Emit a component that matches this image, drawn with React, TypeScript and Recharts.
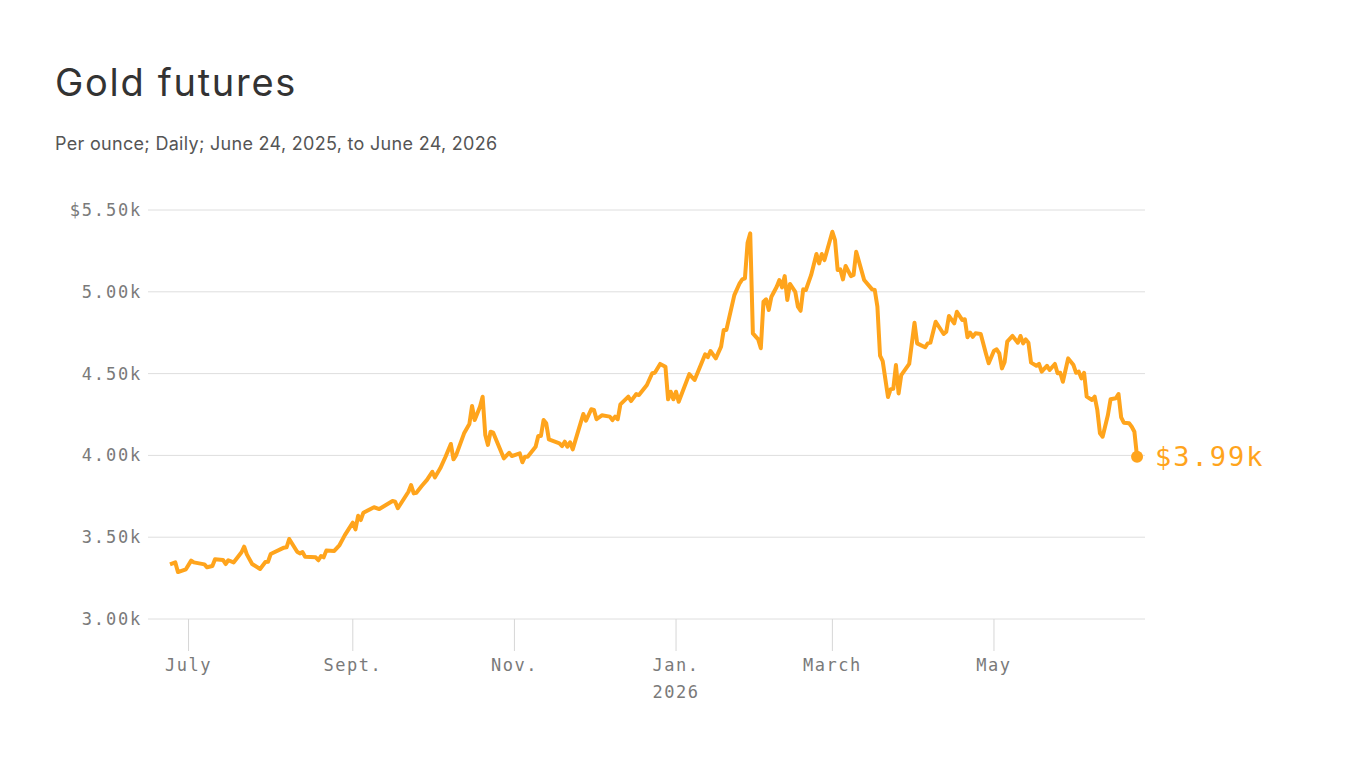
import React from 'react';
import { LineChart, Line, XAxis, YAxis, CartesianGrid } from 'recharts';

// days since June 24, 2025 (trading days)
const days = [
  0, 2, 3, 6, 8, 9, 13, 14, 16, 17,
  20, 21, 22, 24, 27, 28, 29, 31, 34, 36,
  37, 38, 43, 44, 45, 48, 49, 50, 51, 55,
  56, 57, 58, 59, 62, 64, 66, 69, 70, 71,
  72, 73, 77, 79, 84, 85, 86, 90, 91, 92,
  93, 95, 97, 99, 100, 102, 104, 106, 107, 108,
  111, 113, 114, 115, 117, 118, 119, 120, 121, 122,
  126, 128, 129, 132, 133, 134, 135, 138, 139, 140,
  141, 142, 143, 147, 148, 149, 150, 151, 152, 154,
  156, 157, 159, 160, 161, 163, 166, 167, 168, 169,
  170, 173, 174, 176, 177, 180, 182, 183, 185, 187,
  188, 189, 190, 191, 192, 196, 198, 202, 203, 204,
  206, 208, 209, 210, 213, 215, 216, 217, 218, 219,
  220, 222, 223, 224, 225, 226, 227, 229, 230, 231,
  232, 233, 234, 236, 237, 238, 239, 240, 242, 244,
  245, 246, 247, 250, 251, 252, 253, 254, 255, 257,
  258, 259, 262, 265, 266, 267, 268, 269, 271, 272,
  273, 274, 275, 276, 279, 281, 282, 285, 286, 287,
  289, 292, 293, 294, 296, 297, 299, 300, 301, 302,
  303, 304, 306, 308, 309, 311, 312, 313, 314, 315,
  316, 318, 320, 321, 322, 323, 324, 325, 327, 328,
  329, 331, 332, 334, 335, 336, 337, 339, 341, 342,
  343, 344, 345, 346, 348, 349, 350, 351, 352, 354,
  355, 357, 358, 359, 360, 362, 363, 364, 365,
];

// price per ounce, dollars
const prices = [
  3334, 3346, 3287, 3304, 3357, 3346, 3334, 3316, 3324, 3365,
  3361, 3336, 3359, 3346, 3408, 3442, 3395, 3336, 3306, 3348,
  3350, 3397, 3436, 3438, 3489, 3411, 3401, 3409, 3381, 3377,
  3359, 3385, 3377, 3418, 3416, 3452, 3513, 3589, 3548, 3631,
  3605, 3650, 3683, 3672, 3721, 3717, 3677, 3778, 3819, 3768,
  3772, 3813, 3850, 3900, 3866, 3921, 3992, 4070, 3976, 4002,
  4135, 4192, 4302, 4216, 4298, 4359, 4125, 4064, 4145, 4139,
  3982, 4016, 3996, 4013, 3958, 3992, 3992, 4053, 4119, 4119,
  4216, 4196, 4098, 4074, 4057, 4084, 4053, 4080, 4037, 4145,
  4253, 4212, 4282, 4278, 4221, 4245, 4237, 4216, 4237, 4221,
  4312, 4359, 4332, 4375, 4369, 4430, 4502, 4505, 4559, 4542,
  4343, 4389, 4343, 4389, 4328, 4497, 4461, 4618, 4600, 4638,
  4593, 4665, 4767, 4767, 4980, 5052, 5076, 5082, 5300, 5357,
  4746, 4709, 4655, 4939, 4954, 4889, 4970, 5031, 5072, 5027,
  5096, 4950, 5048, 5000, 4909, 4884, 5015, 5011, 5103, 5231,
  5174, 5231, 5194, 5367, 5316, 5133, 5137, 5076, 5158, 5096,
  5103, 5245, 5072, 5015, 5011, 4909, 4610, 4576, 4357, 4405,
  4407, 4552, 4379, 4491, 4559, 4811, 4685, 4661, 4685, 4689,
  4817, 4742, 4756, 4852, 4807, 4878, 4828, 4832, 4722, 4750,
  4725, 4746, 4742, 4620, 4563, 4640, 4648, 4624, 4532, 4569,
  4695, 4730, 4689, 4730, 4685, 4709, 4689, 4567, 4548, 4559,
  4512, 4548, 4522, 4559, 4502, 4505, 4450, 4593, 4552, 4505,
  4512, 4471, 4505, 4359, 4339, 4359, 4278, 4135, 4114, 4247,
  4343, 4349, 4375, 4233, 4200, 4196, 4175, 4145, 3992,
];

const tickDays = [7, 69, 130, 191, 250, 311];
const tickLabels = ['July', 'Sept.', 'Nov.', 'Jan.', 'March', 'May'];
const yTicks = [3000, 3500, 4000, 4500, 5000, 5500];
const endLabel = '$3.99k';

const data = days.map((d, i) => ({ day: d, price: prices[i] }));

const ORANGE = '#ffa41c';
const MONO = '"DejaVu Sans Mono", "Liberation Mono", monospace';
const SANS = 'Inter, "Noto Sans", sans-serif';

const XTick = (props: any) => {
  const { x, y, payload } = props;
  const i = tickDays.indexOf(payload.value);
  const style = { fontFamily: MONO, fontSize: 17, letterSpacing: 1.5, fill: '#7a7a7a' };
  return (
    <g>
      <text x={x} y={y + 20} textAnchor="middle" style={style}>{tickLabels[i]}</text>
      {i === 3 && (
        <text x={x} y={y + 47} textAnchor="middle" style={style}>2026</text>
      )}
    </g>
  );
};

const fmtY = (v: number) => (v === 5500 ? '$5.50k' : (v / 1000).toFixed(2) + 'k');

const EndDot = (props: any) => {
  const { cx, cy, index } = props;
  if (index !== data.length - 1) return <g key={`d-${index}`} />;
  return (
    <g key={`d-${index}`}>
      <circle cx={cx} cy={cy} r={6} fill={ORANGE} />
      <text
        x={cx + 18}
        y={cy}
        dy="0.36em"
        style={{ fontFamily: MONO, fontSize: 27, letterSpacing: 2, fill: ORANGE }}
      >
        {endLabel}
      </text>
    </g>
  );
};

export default function App() {
  return (
    <div style={{ position: 'absolute', left: 0, top: 0, width: 1366, height: 768, background: '#fff' }}>
      <div
        style={{
          position: 'absolute', left: 55, top: 63, fontFamily: SANS, fontSize: 38,
          lineHeight: '38px', color: '#333', whiteSpace: 'nowrap', letterSpacing: 1.7,
        }}
      >
        Gold futures
      </div>
      <div
        style={{
          position: 'absolute', left: 55, top: 135, fontFamily: SANS, fontSize: 18,
          lineHeight: '18px', color: '#555', whiteSpace: 'nowrap', letterSpacing: 0.3,
        }}
      >
        Per ounce; Daily; June 24, 2025, to June 24, 2026
      </div>
      <div style={{ position: 'absolute', left: 0, top: 0 }}>
        <LineChart
          width={1366}
          height={768}
          data={data}
          margin={{ top: 210, right: 221, bottom: 0, left: 58 }}
        >
          <CartesianGrid vertical={false} stroke="#dedede" />
          <XAxis
            dataKey="day"
            type="number"
            domain={[-8.3, 368]}
            ticks={tickDays}
            axisLine={false}
            tickLine={{ stroke: '#d6d6d6' }}
            tickSize={32}
            tickMargin={0}
            height={149}
            tick={<XTick />}
            interval={0}
          />
          <YAxis
            type="number"
            domain={[3000, 5500]}
            ticks={yTicks}
            tickFormatter={fmtY}
            axisLine={false}
            tickLine={false}
            tickSize={0}
            tickMargin={6}
            width={90}
            tick={{ fill: '#7a7a7a', fontSize: 17, fontFamily: MONO, letterSpacing: 1.8 }}
          />
          <Line
            type="linear"
            dataKey="price"
            stroke={ORANGE}
            strokeWidth={4}
            strokeLinejoin="round"
            dot={EndDot}
            activeDot={false}
            isAnimationActive={false}
          />
        </LineChart>
      </div>
    </div>
  );
}
